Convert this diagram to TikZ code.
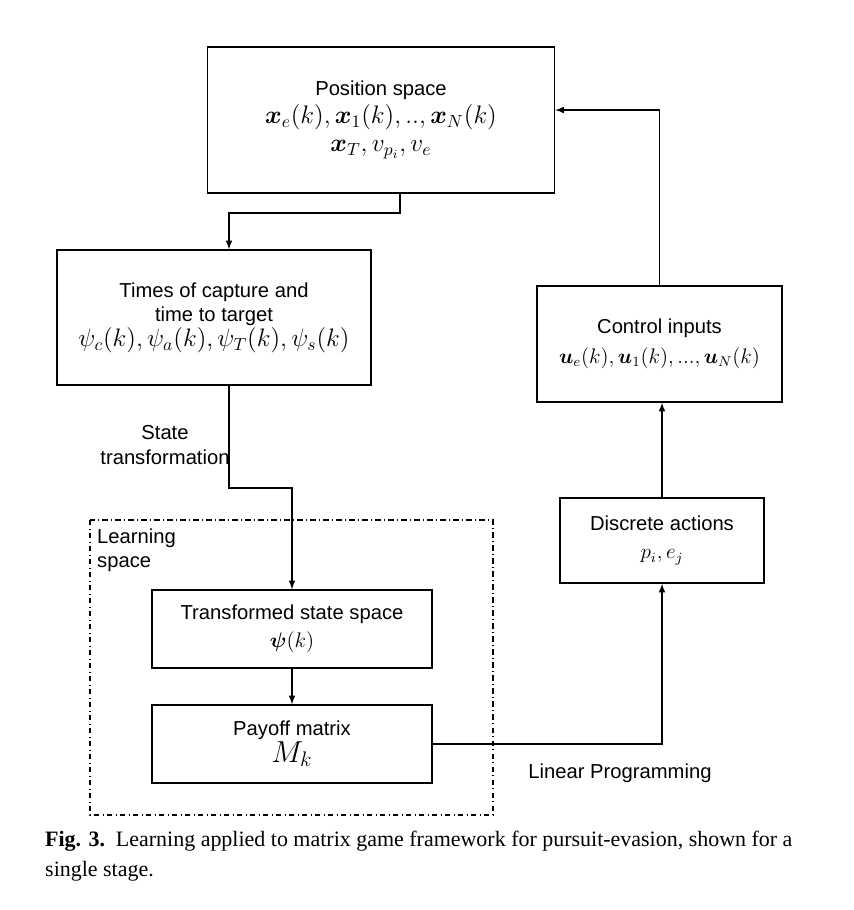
\documentclass[tikz,border=0pt]{standalone}
\usepackage{amsmath,bm}
\usepackage{fontspec}
\setmainfont{Liberation Sans}
\newfontfamily\capfont{Liberation Serif}
\usetikzlibrary{positioning}

\begin{document}
\begin{tikzpicture}[
	blk/.style={draw, line width=0.8pt, align=center, inner sep=0pt, font=\fontsize{11.5}{14}\selectfont},
	lbl/.style={align=center, font=\fontsize{11.5}{14}\selectfont},
	arr/.style={-latex, line width=0.7pt}
]
	\useasboundingbox (0,0) rectangle (17.08,-18.2);

	\node[blk, minimum width=6.94cm, minimum height=2.92cm] (pos) at (7.62,-2.4)
		{Position space\\[2pt] {\Large $\bm{x}_e(k),\bm{x}_1(k),..,\bm{x}_N(k)$}\\[2pt] {\Large $\bm{x}_T, v_{p_i}, v_e$}};
	\node[blk, minimum width=6.28cm, minimum height=2.7cm] (times) at (4.28,-6.35)
		{Times of capture and\\ time to target\\ {\Large $\psi_c(k),\psi_a(k),\psi_T(k),\psi_s(k)$}};
	\node[blk, minimum width=4.9cm, minimum height=2.32cm] (ctrl) at (13.19,-6.88)
		{Control inputs\\[3pt] {\large $\bm{u}_e(k),\bm{u}_1(k),...,\bm{u}_N(k)$}};
	\node[blk, minimum width=4.08cm, minimum height=1.7cm] (disc) at (13.24,-10.81)
		{Discrete actions\\[2pt] {\large $p_i,e_j$}};
	\node[blk, minimum width=5.6cm, minimum height=1.56cm] (trans) at (5.84,-12.58)
		{Transformed state space\\[2pt] {\large $\bm{\psi}(k)$}};
	\node[blk, minimum width=5.6cm, minimum height=1.56cm] (pay) at (5.84,-14.88)
		{Payoff matrix\\ {\LARGE $M_k$}};

	% learning space frame
	\draw[dash dot, line width=0.6pt] (1.8,-10.4) rectangle (9.86,-16.3);
	\node[lbl, align=left, anchor=north west] (learn) at (1.82,-10.45) {Learning\\space};

	% connectors
	\coordinate (c1) at (8.0,-4.26);
	\coordinate (c2) at (4.58,-4.26);
	\draw[arr] (pos.south -| c1) -- (c1) -- (c2) -- (times.north -| c2);
	\coordinate (c3) at (4.58,-9.76);
	\coordinate (c4) at (5.84,-9.76);
	\draw[arr] (times.south -| c3) -- (c3) -- (c4) -- (trans.north);
	\draw[arr] (trans) -- (pay);
	\coordinate (c5) at (13.24,-14.88);
	\draw[arr] (pay.east) -- (c5) -- (disc.south);
	\draw[arr] (disc.north) -- (ctrl.south -| disc.north);
	\coordinate (c6) at (13.19,-2.2);
	\draw[arr] (ctrl.north) -- (c6) -- (pos.east |- c6);

	\node[lbl] (st) at (3.3,-8.9) {State\\transformation};
	\node[lbl] (lp) at (12.4,-15.46) {Linear Programming};

	\node[anchor=north west, align=left, font=\capfont\fontsize{12.5}{17}\selectfont] (cap) at (0.78,-16.5)
		{\textbf{Fig. 3.}\ \ Learning applied to matrix game framework for pursuit-evasion, shown for a\\single stage.};
\end{tikzpicture}
\end{document}
